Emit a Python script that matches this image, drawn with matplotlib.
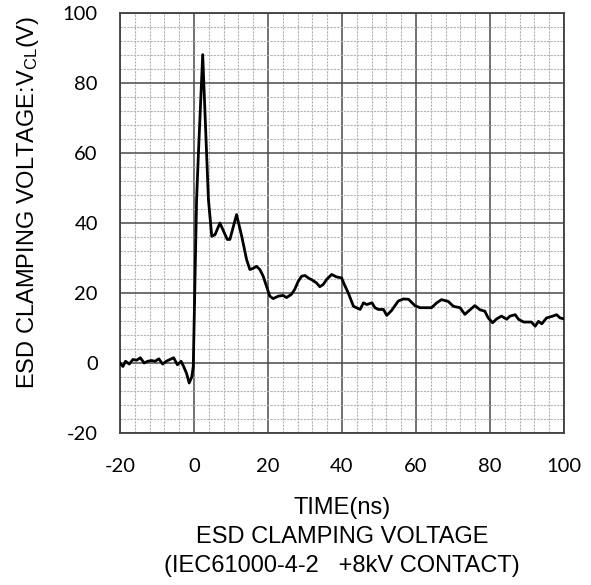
import numpy as np
import matplotlib
matplotlib.use("Agg")
from matplotlib import pyplot as plt
from matplotlib.ticker import MultipleLocator

# waveform (ns, V)
time_ns = [-20, -19.2, -18.5, -17.5, -16.5, -15.5, -14.5, -13.5, -12.5, -11.5, -10.5,
           -9.5, -8.5, -7.5, -6.5, -5.5, -4.5, -3.5, -2.8, -2.0, -1.3, -0.6, -0.2,
           0.7, 1.2, 2.35, 3.4, 3.9, 4.8, 5.7, 7.0, 9.0, 9.7, 11.5, 12.9, 14.2, 15.1,
           15.9, 16.9, 17.8, 18.7, 19.6, 20.5, 21.4, 22.8, 24.1, 25.0, 26.3, 27.2,
           28.2, 29.1, 30.0, 30.9, 31.8, 33.1, 34.0, 34.9, 35.8, 37.2, 38.5, 39.9,
           40.6, 41.7, 43.1, 44.9, 45.8, 46.7, 48.1, 48.9, 49.8, 51.2, 52.1, 53.4,
           55.2, 56.6, 58.0, 59.7, 61.1, 64.2, 65.6, 66.9, 68.7, 70.1, 71.9, 73.2,
           74.6, 75.9, 77.3, 78.6, 79.5, 80.7, 81.8, 83.1, 84.5, 85.4, 86.8, 87.7,
           89.1, 91.2, 92.2, 93.1, 94.0, 95.3, 96.7, 98.0, 98.9, 100]
v_clamp = [0, -1, 0.5, -0.3, 1, 0.8, 1.5, 0, 0.5, 0.7, 0.5,
           1.2, -0.3, 0.5, 1, 1.5, -0.5, 0.5, -1, -3, -5.7, -4, -1,
           46.7, 60, 88.1, 60, 46.7, 36.2, 36.7, 40, 35.3, 35.3, 42.4, 36.2, 29.6, 26.7,
           27, 27.6, 26.7, 24.8, 21.9, 19.1, 18.4, 19.1, 19.3, 18.7, 19.6, 21,
           23.4, 24.8, 25, 24.3, 23.8, 22.9, 21.8, 22.4, 23.8, 25.3, 24.6, 24.3,
           22.5, 20, 16.2, 15.3, 17.2, 16.7, 17.2, 15.8, 15.3, 15.3, 13.6, 15,
           17.7, 18.3, 18.2, 16.4, 15.8, 15.8, 17.2, 18.1, 17.6, 16.2, 15.8, 13.9,
           15.2, 16.4, 15.2, 14.8, 12.9, 11.5, 12.6, 13.4, 12.5, 13.4, 13.8, 12.5,
           11.7, 11.7, 10.5, 11.9, 11.2, 12.9, 13.3, 13.8, 12.9, 12.6]

x_ticks = [-20, 0, 20, 40, 60, 80, 100]
y_ticks = [-20, 0, 20, 40, 60, 80, 100]

plt.rcParams['font.family'] = ['Liberation Sans', 'DejaVu Sans']
plt.rcParams['mathtext.default'] = 'regular'
plt.rcParams['axes.unicode_minus'] = False

fig = plt.figure(figsize=(5.91, 5.85), dpi=100)
ax = fig.add_axes([120 / 591, 1 - 433 / 585, 444 / 591, 420 / 585])

ax.plot(time_ns, v_clamp, color='black', lw=2, zorder=3)

ax.set_xlim(-20, 100)
ax.set_ylim(-20, 100)
ax.set_xticks(x_ticks)
ax.set_yticks(y_ticks)
ax.xaxis.set_minor_locator(MultipleLocator(4))
ax.yaxis.set_minor_locator(MultipleLocator(4))
ax.grid(which='major', color='#4a4a4a', lw=1.1)
ax.grid(which='minor', color='#b4b4b4', lw=0.8, ls=(0, (2, 1)))
ax.set_axisbelow(True)
ax.tick_params(which='both', length=0)
ax.tick_params(axis='x', pad=18, labelsize=14.5)
ax.tick_params(axis='y', pad=16, labelsize=14.5)
for lab in ax.get_xticklabels() + ax.get_yticklabels():
    lab.set_fontfamily('Lato')
for sp in ax.spines.values():
    sp.set_color('#404040')
    sp.set_linewidth(1.3)

fig.text(28 / 591, 1 - 202 / 585, 'ESD CLAMPING VOLTAGE:V$_{CL}$(V)',
         rotation=90, ha='center', va='center', fontsize=17)
fig.text(342 / 591, 1 - 508 / 585, 'TIME(ns)', ha='center', va='center', fontsize=17)
fig.text(342 / 591, 1 - 537 / 585, 'ESD CLAMPING VOLTAGE', ha='center', va='center', fontsize=17)
fig.text(342 / 591, 1 - 566 / 585, '(IEC61000-4-2   +8kV CONTACT)', ha='center', va='center', fontsize=17)

fig.savefig('out.png', dpi=100)
